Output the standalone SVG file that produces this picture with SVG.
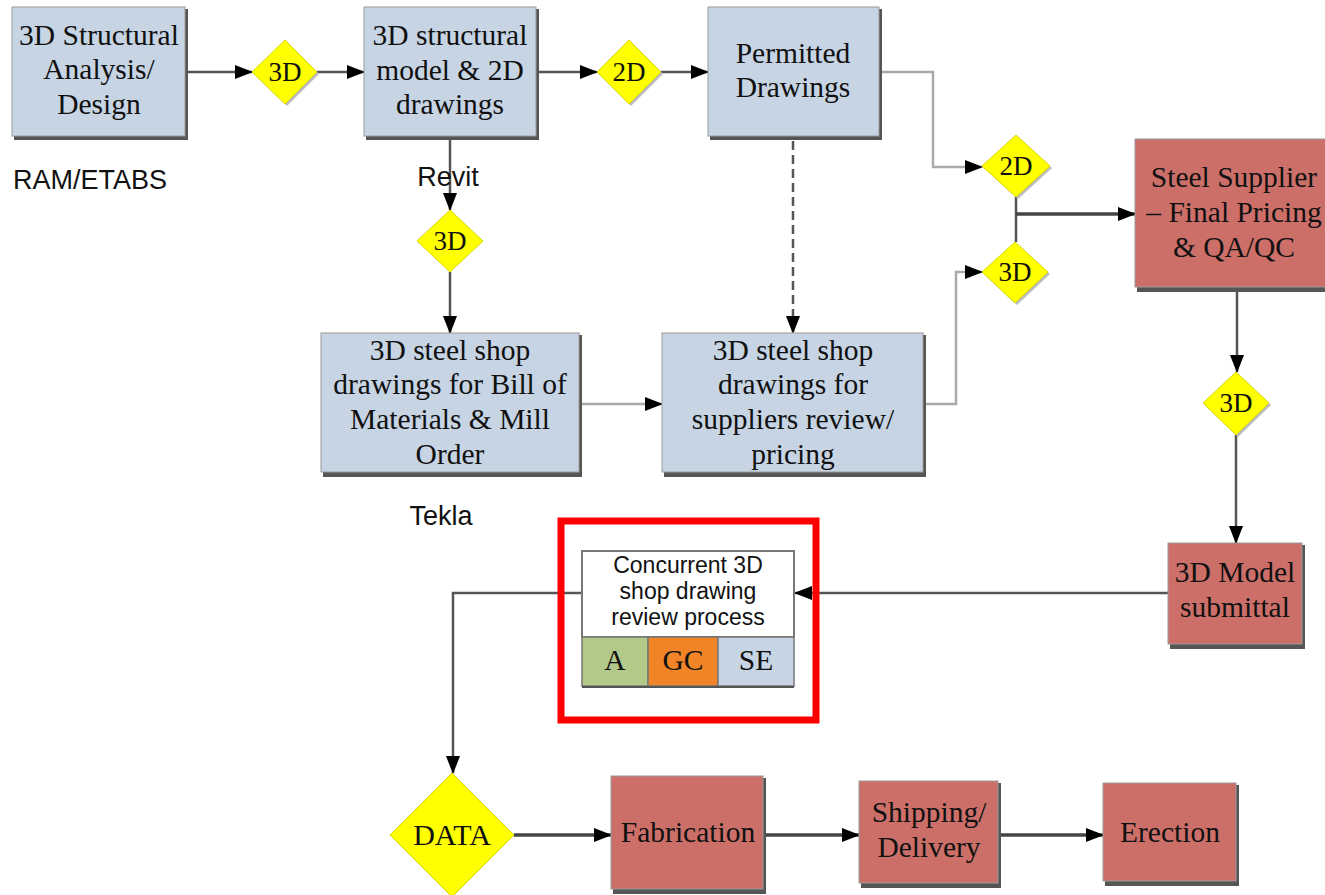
<svg xmlns="http://www.w3.org/2000/svg" width="1325" height="895" viewBox="0 0 1325 895">
<style>
.bx{fill:#c6d4e4;stroke:#9a9a9a;stroke-width:1}
.rd{fill:#cc6f69;stroke:#9a9a9a;stroke-width:1}
.sh{fill:#555}
.dm{fill:#ffff00;stroke:#d8d800;stroke-width:1}
.dsh{fill:#bdbdbd}
.t{font-family:"Liberation Serif","Times New Roman",serif;font-size:29.5px;fill:#111;text-anchor:middle}
.td{font-family:"Liberation Serif","Times New Roman",serif;font-size:27px;fill:#111;text-anchor:middle}
.s{font-family:"Liberation Sans",Arial,sans-serif;font-size:27px;fill:#111;text-anchor:middle}
.c{font-family:"Liberation Sans",Arial,sans-serif;font-size:23px;fill:#111;text-anchor:middle}
.ln{fill:none;stroke:#555;stroke-width:2.5}
.lt{fill:none;stroke:#aaa;stroke-width:2.5}
.lk{fill:none;stroke:#444;stroke-width:3.5}
</style>
<defs>
<marker id="ah" markerUnits="userSpaceOnUse" markerWidth="18" markerHeight="14" refX="17" refY="7" orient="auto">
<path d="M0,0 L18,7 L0,14 z" fill="#000"/>
</marker>
</defs>
<rect width="1325" height="895" fill="#fff"/>

<g id="connectors">
<path class="ln" d="M186,72 H252" marker-end="url(#ah)"/>
<path class="ln" d="M317,72 H364" marker-end="url(#ah)"/>
<path class="ln" d="M537,72 H597" marker-end="url(#ah)"/>
<path class="ln" d="M661,72 H708" marker-end="url(#ah)"/>
<path class="lt" d="M882,72 H933 V167 H982" marker-end="url(#ah)"/>
<path class="ln" d="M1016,197 V242"/>
<path class="lk" d="M1016,214 H1135" marker-end="url(#ah)"/>
<path class="lt" d="M925,404 H956 V272 H982" marker-end="url(#ah)"/>
<path class="ln" d="M450,138 V210" marker-end="url(#ah)"/>
<path class="ln" d="M450,272 V333" marker-end="url(#ah)"/>
<path class="lt" d="M580,404 H662" marker-end="url(#ah)"/>
<path class="ln" d="M793,141 V333" stroke-dasharray="9,5" marker-end="url(#ah)"/>
<path class="ln" d="M1237,290 V372" marker-end="url(#ah)"/>
<path class="ln" d="M1236,435 V543" marker-end="url(#ah)"/>
<path class="ln" d="M1168,593 H795" marker-end="url(#ah)"/>
<path class="ln" d="M582,593 H453 V773" marker-end="url(#ah)"/>
<path class="lk" d="M514,835 H611" marker-end="url(#ah)"/>
<path class="lk" d="M765,835 H859" marker-end="url(#ah)"/>
<path class="lk" d="M999,835 H1103" marker-end="url(#ah)"/>
</g>

<g id="n-analysis">
<rect class="sh" x="14" y="9" width="174" height="131"/>
<rect class="bx" x="12" y="7" width="173" height="129"/>
<text class="t"><tspan x="99" y="45">3D Structural</tspan><tspan x="99" y="79">Analysis/</tspan><tspan x="99" y="114">Design</tspan></text>
</g>
<text class="s" x="90" y="189">RAM/ETABS</text>

<g id="d-3d-1">
<polygon class="dsh" points="287,42 319,74 287,106 254,74"/>
<polygon class="dm" points="285,40 317,72 285,104 252,72"/>
<text class="td" x="285" y="81">3D</text>
</g>

<g id="n-model">
<rect class="sh" x="366" y="9" width="173" height="131"/>
<rect class="bx" x="364" y="7" width="172" height="129"/>
<text class="t"><tspan x="450" y="45">3D structural</tspan><tspan x="450" y="80">model &amp; 2D</tspan><tspan x="450" y="114">drawings</tspan></text>
</g>
<text class="s" x="448" y="186">Revit</text>

<g id="d-2d-1">
<polygon class="dsh" points="631,42 663,74 631,106 599,74"/>
<polygon class="dm" points="629,40 661,72 629,104 597,72"/>
<text class="td" x="629" y="81">2D</text>
</g>

<g id="n-permitted">
<rect class="sh" x="710" y="9" width="172" height="131"/>
<rect class="bx" x="708" y="7" width="171" height="129"/>
<text class="t"><tspan x="793" y="63">Permitted</tspan><tspan x="793" y="97">Drawings</tspan></text>
</g>

<g id="d-2d-2">
<polygon class="dsh" points="1018,137 1052,168 1018,199 984,168"/>
<polygon class="dm" points="1016,135 1050,166 1016,197 982,166"/>
<text class="td" x="1016" y="175">2D</text>
</g>

<g id="d-3d-2">
<polygon class="dsh" points="1017,244 1050,274 1017,305 984,274"/>
<polygon class="dm" points="1015,242 1048,272 1015,303 982,272"/>
<text class="td" x="1015" y="281">3D</text>
</g>

<g id="n-supplier">
<rect class="sh" x="1137" y="141" width="195" height="151"/>
<rect class="rd" x="1135" y="139" width="195" height="148"/>
<text class="t"><tspan x="1234" y="187">Steel Supplier</tspan><tspan x="1234" y="222">– Final Pricing</tspan><tspan x="1234" y="257">&amp; QA/QC</tspan></text>
</g>

<g id="d-3d-3">
<polygon class="dm" points="450,210 483,241 450,272 417,241"/>
<text class="td" x="450" y="250">3D</text>
</g>

<g id="n-bom">
<rect class="sh" x="323" y="335" width="259" height="142"/>
<rect class="bx" x="321" y="333" width="258" height="139"/>
<text class="t"><tspan x="450" y="360">3D steel shop</tspan><tspan x="450" y="394">drawings for Bill of</tspan><tspan x="450" y="429">Materials &amp; Mill</tspan><tspan x="450" y="464">Order</tspan></text>
</g>
<text class="s" x="441" y="525">Tekla</text>

<g id="n-suppliers-review">
<rect class="sh" x="664" y="335" width="262" height="142"/>
<rect class="bx" x="662" y="333" width="261" height="139"/>
<text class="t"><tspan x="793" y="360">3D steel shop</tspan><tspan x="793" y="394">drawings for</tspan><tspan x="793" y="429">suppliers review/</tspan><tspan x="793" y="464">pricing</tspan></text>
</g>

<g id="d-3d-4">
<polygon class="dsh" points="1238,374 1271,405 1238,437 1205,405"/>
<polygon class="dm" points="1236,372 1269,403 1236,435 1203,403"/>
<text class="td" x="1236" y="412">3D</text>
</g>

<g id="n-submittal">
<rect class="sh" x="1170" y="545" width="135" height="104"/>
<rect class="rd" x="1168" y="543" width="134" height="101"/>
<text class="t"><tspan x="1235" y="582">3D Model</tspan><tspan x="1235" y="617">submittal</tspan></text>
</g>

<g id="n-concurrent">
<rect x="561" y="521" width="255" height="199" fill="none" stroke="#ff0000" stroke-width="7"/>
<rect x="582" y="551" width="212" height="86" fill="#fff" stroke="#777" stroke-width="2"/>
<text class="c"><tspan x="688" y="573">Concurrent 3D</tspan><tspan x="688" y="599">shop drawing</tspan><tspan x="688" y="625">review process</tspan></text>
<rect x="582" y="637" width="66" height="49" fill="#b3c98a" stroke="#777" stroke-width="1.5"/>
<rect x="648" y="637" width="70" height="49" fill="#f08427" stroke="#777" stroke-width="1.5"/>
<rect x="718" y="637" width="76" height="49" fill="#c6d4e4" stroke="#777" stroke-width="1.5"/>
<line x1="582" y1="687" x2="794" y2="687" stroke="#555" stroke-width="2"/>
<text class="t" x="615" y="670">A</text>
<text class="t" x="683" y="670">GC</text>
<text class="t" x="756" y="670">SE</text>
</g>

<g id="d-data">
<polygon class="dm" points="452,773 514,835 452,897 390,835"/>
<text class="td" x="452" y="845" style="font-size:30px">DATA</text>
</g>

<g id="n-fabrication">
<rect class="sh" x="613" y="778" width="153" height="116"/>
<rect class="rd" x="611" y="776" width="152" height="113"/>
<text class="t" x="688" y="842">Fabrication</text>
</g>

<g id="n-shipping">
<rect class="sh" x="861" y="783" width="140" height="105"/>
<rect class="rd" x="859" y="781" width="139" height="102"/>
<text class="t"><tspan x="929" y="822">Shipping/</tspan><tspan x="929" y="857">Delivery</tspan></text>
</g>

<g id="n-erection">
<rect class="sh" x="1105" y="785" width="134" height="101"/>
<rect class="rd" x="1103" y="783" width="133" height="98"/>
<text class="t" x="1170" y="842">Erection</text>
</g>
</svg>
